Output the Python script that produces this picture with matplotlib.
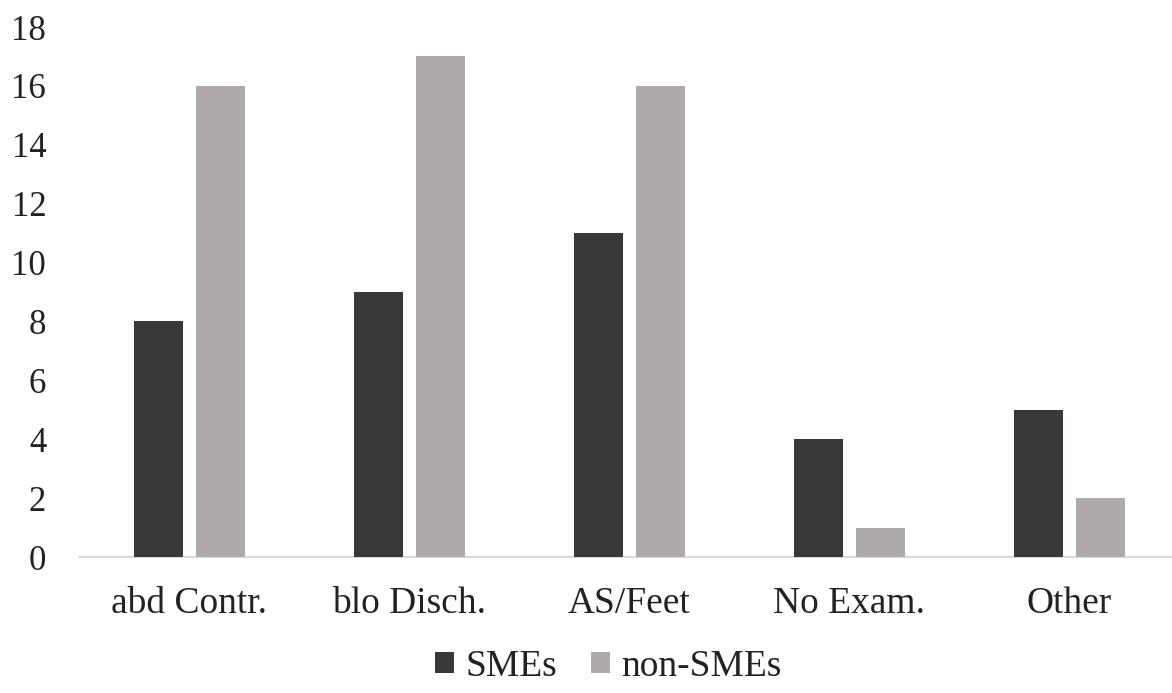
import matplotlib
matplotlib.use("Agg")
import matplotlib.pyplot as plt
import numpy as np

categories = ["abd Contr.", "blo Disch.", "AS/Feet", "No Exam.", "Other"]
smes = [8, 9, 11, 4, 5]
non_smes = [16, 17, 16, 1, 2]
yticks = [0, 2, 4, 6, 8, 10, 12, 14, 16, 18]

plt.rcParams['font.family'] = ['Liberation Serif', 'DejaVu Serif']

fig = plt.figure(figsize=(11.72, 6.93), dpi=100)
ax = fig.add_axes([0.0678, 0.1962, 0.9386, 0.7648])

x = np.arange(len(categories))
w = 0.223
off = 0.141
ax.bar(x - off, smes, width=w, color="#3a3836", label="SMEs", zorder=3)
ax.bar(x + off, non_smes, width=w, color="#aeaaa9", label="non-SMEs", zorder=3)

ax.set_xlim(-0.5, len(categories) - 0.5)
ax.set_ylim(0, 18)
ax.set_yticks(yticks)
ax.set_yticklabels([str(t) for t in yticks])
ax.set_xticks(x)
ax.set_xticklabels(categories)
ax.tick_params(axis='y', length=0, pad=24, labelsize=25, colors="#222222")
ax.tick_params(axis='x', length=0, pad=21, labelsize=27, colors="#222222")

for s in ['top', 'right', 'left']:
    ax.spines[s].set_visible(False)
ax.spines['bottom'].set_color("#d9d9d9")
ax.spines['bottom'].set_linewidth(1.5)

leg = fig.legend(loc='center', bbox_to_anchor=(0.519, 0.038), ncol=2, frameon=False,
                 fontsize=27, handlelength=0.5, handleheight=0.5, handletextpad=0.3,
                 columnspacing=0.9, labelcolor="#222222")

fig.savefig("out.png", dpi=100)
